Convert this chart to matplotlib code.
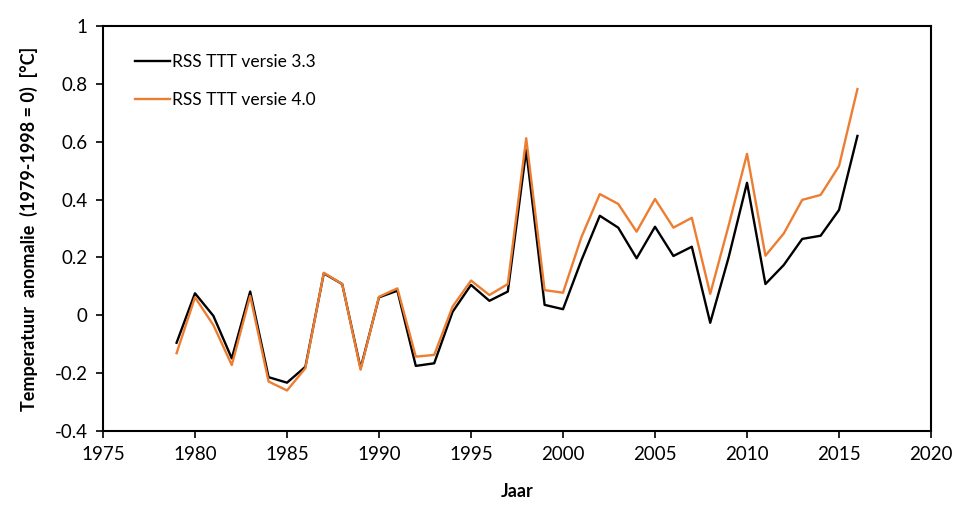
import matplotlib.pyplot as plt
import numpy as np

plt.rcParams['font.family'] = ['Lato', 'DejaVu Sans']

years = np.arange(1979, 2017)

# RSS TTT versie 3.3
rss33 = [-0.095, 0.076, -0.002, -0.149, 0.082, -0.214, -0.233, -0.178, 0.145, 0.108,
         -0.183, 0.062, 0.085, -0.175, -0.166, 0.012, 0.105, 0.05, 0.082, 0.571,
         0.036, 0.021, 0.19, 0.344, 0.303, 0.197, 0.306, 0.205, 0.237, -0.026,
         0.2, 0.458, 0.108, 0.174, 0.264, 0.275, 0.364, 0.62]

# RSS TTT versie 4.0
rss40 = [-0.131, 0.062, -0.034, -0.172, 0.067, -0.229, -0.26, -0.183, 0.147, 0.108,
         -0.188, 0.064, 0.093, -0.143, -0.137, 0.03, 0.12, 0.07, 0.108, 0.612,
         0.087, 0.078, 0.27, 0.419, 0.385, 0.289, 0.402, 0.303, 0.337, 0.074,
         0.31, 0.558, 0.206, 0.283, 0.399, 0.416, 0.516, 0.782]

fig = plt.figure(figsize=(9.66, 5.08), dpi=100)
ax = fig.add_axes([0.1066, 0.1516, 0.8572, 0.7972])

ax.plot(years, rss33, color='black', lw=1.7, label='RSS TTT versie 3.3')
ax.plot(years, rss40, color='#ED7D31', lw=1.7, label='RSS TTT versie 4.0')

ax.set_xlim(1975, 2020)
ax.set_ylim(-0.4, 1.0)
ax.set_xticks(np.arange(1975, 2021, 5))
ax.set_yticks(np.arange(-0.4, 1.01, 0.2))
ax.set_yticklabels(['-0.4', '-0.2', '0', '0.2', '0.4', '0.6', '0.8', '1'])
ax.tick_params(direction='out', length=5, width=1.2, labelsize=13.5, pad=6)
for s in ax.spines.values():
    s.set_linewidth(1.5)

ax.set_xlabel('Jaar', fontsize=13, fontweight='bold', labelpad=14)
ax.set_ylabel('Temperatuur  anomalie  (1979-1998 = 0)  [°C]', fontsize=13,
              fontweight='bold', labelpad=12)

ax.legend(loc='upper left', frameon=False, fontsize=12.5, handlelength=2.0,
          handletextpad=0.1, labelspacing=1.3, bbox_to_anchor=(0.02, 0.97))

fig.savefig('out.png', dpi=100)
